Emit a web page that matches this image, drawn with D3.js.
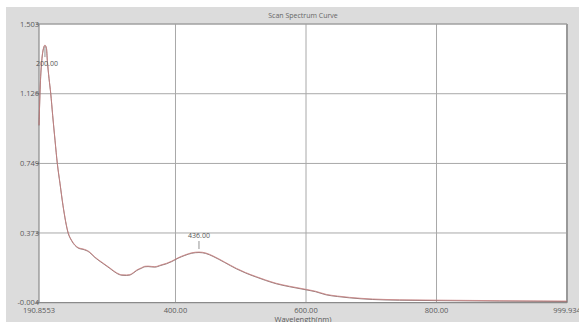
<!DOCTYPE html>
<html><head><meta charset="utf-8">
<script src="https://cdn.jsdelivr.net/npm/d3@7"></script>
<style>body{margin:0;background:#fff;}svg{display:block;}</style>
</head><body>
<svg id="c" width="579" height="322"></svg>
<script>
const wavelength = [190.86,193.15,195.45,197.74,200.0,202.3,203.6,206.2,208.8,211.8,215.4,218.9,223.0,227.6,235.7,240.6,246.0,252.0,258.2,267.8,276.5,288.8,299.5,309.7,317.8,325.0,330.1,335.1,340.8,348.0,353.0,358.0,363.7,368.3,377.5,386.2,394.3,403.9,414.2,424.9,436.0,446.3,457.5,475.3,493.2,507.5,523.8,538.1,554.4,574.8,600.4,614.6,631.0,648.2,666.5,702.2,743.0,799.6,895.9,999.93];
const absorbance = [0.957,1.200,1.319,1.373,1.389,1.373,1.308,1.211,1.130,1.011,0.876,0.751,0.643,0.524,0.373,0.335,0.308,0.292,0.287,0.272,0.243,0.211,0.184,0.158,0.147,0.146,0.148,0.158,0.173,0.185,0.193,0.194,0.192,0.191,0.200,0.209,0.221,0.239,0.254,0.266,0.270,0.265,0.249,0.216,0.182,0.159,0.137,0.119,0.101,0.085,0.068,0.058,0.041,0.032,0.025,0.016,0.012,0.010,0.007,0.005];
const xTicks = [190.8553,400,600,800,999.934];
const xTickLabels = ["190.8553","400.00","600.00","800.00","999.934"];
const yTicks = [-0.004,0.373,0.749,1.126,1.503];
const yTickLabels = ["-0.004","0.373","0.749","1.126","1.503"];
const peaks = [{w:200.0,v:1.389,label:"200.00",below:true},{w:436.0,v:0.270,label:"436.00",below:false}];

const svg = d3.select("#c");
const F = "'Open Sans', 'DejaVu Sans', sans-serif";
svg.append("rect").attr("x",6).attr("y",7).attr("width",573).attr("height",315).attr("fill","#dcdcdc");

const L=39, R=567, T=24, B=302.7;
const x = d3.scaleLinear().domain([190.8553,999.934]).range([L,R]);
const y = d3.scaleLinear().domain([-0.004,1.503]).range([B,T]);

svg.append("rect").attr("x",L).attr("y",T).attr("width",R-L).attr("height",B-T).attr("fill","#fff");

const g = svg.append("g");
g.selectAll("line.h").data(yTicks.slice(1,4)).enter().append("line")
 .attr("x1",L).attr("x2",R).attr("y1",d=>y(d)).attr("y2",d=>y(d)).attr("stroke","#a8a8a8").attr("stroke-width",1);
g.selectAll("line.v").data(xTicks.slice(1,4)).enter().append("line")
 .attr("y1",T).attr("y2",B).attr("x1",d=>x(d)).attr("x2",d=>x(d)).attr("stroke","#a8a8a8").attr("stroke-width",1);

svg.append("line").attr("x1",L).attr("x2",R).attr("y1",T).attr("y2",T).attr("stroke","#a0a0a0").attr("stroke-width",1.5);
svg.append("line").attr("x1",R).attr("x2",R).attr("y1",T).attr("y2",B).attr("stroke","#999").attr("stroke-width",2);
svg.append("line").attr("x1",L).attr("x2",L).attr("y1",T).attr("y2",B).attr("stroke","#8a8a8a").attr("stroke-width",1.2);
svg.append("line").attr("x1",L).attr("x2",R).attr("y1",B).attr("y2",B).attr("stroke","#8a8a8a").attr("stroke-width",1.2);

const ya = svg.append("g");
yTicks.forEach((t,i)=>{
  ya.append("line").attr("x1",L-3).attr("x2",L).attr("y1",y(t)).attr("y2",y(t)).attr("stroke","#777");
  ya.append("text").attr("x",L).attr("y",y(t)).attr("dy","0.35em").attr("text-anchor","end")
    .attr("font-family",F).attr("font-size",7.5).attr("fill","#5a5a5a").text(yTickLabels[i]);
});
const xa = svg.append("g");
xTicks.forEach((t,i)=>{
  xa.append("text").attr("x",x(t)).attr("y",B+8).attr("dy","0.35em").attr("text-anchor","middle")
    .attr("font-family",F).attr("font-size",7.5).attr("fill","#5a5a5a").text(xTickLabels[i]);
});

svg.append("text").attr("x",303).attr("y",16).attr("text-anchor","middle").attr("dy","0.35em")
  .attr("font-family",F).attr("font-size",7).attr("fill","#666").text("Scan Spectrum Curve");
svg.append("text").attr("x",303).attr("y",319).attr("text-anchor","middle").attr("dy","0.35em")
  .attr("font-family",F).attr("font-size",7.5).attr("fill","#5a5a5a").text("Wavelength(nm)");

const line = d3.line().x((d,i)=>x(wavelength[i])).y(d=>y(d)).curve(d3.curveMonotoneX);
svg.append("path").datum(absorbance).attr("d",line).attr("fill","none").attr("stroke","#7a5a5a").attr("stroke-width",0.8).attr("transform","translate(0,0.5)");
svg.append("path").datum(absorbance).attr("d",line).attr("fill","none").attr("stroke","#c88080").attr("stroke-width",0.8);

peaks.forEach(p=>{
  const px=x(p.w), py=y(p.v);
  if(p.below){
    svg.append("line").attr("x1",px).attr("x2",px).attr("y1",py+2).attr("y2",py+12).attr("stroke","#777").attr("stroke-width",0.8);
    svg.append("text").attr("x",px+2).attr("y",py+18).attr("dy","0.35em").attr("text-anchor","middle")
      .attr("font-family",F).attr("font-size",7).attr("fill","#555").text(p.label);
  } else {
    svg.append("line").attr("x1",px).attr("x2",px).attr("y1",py-3).attr("y2",py-11).attr("stroke","#777").attr("stroke-width",0.8);
    svg.append("text").attr("x",px).attr("y",py-16).attr("dy","0.35em").attr("text-anchor","middle")
      .attr("font-family",F).attr("font-size",7).attr("fill","#555").text(p.label);
  }
});
</script>
</body></html>
